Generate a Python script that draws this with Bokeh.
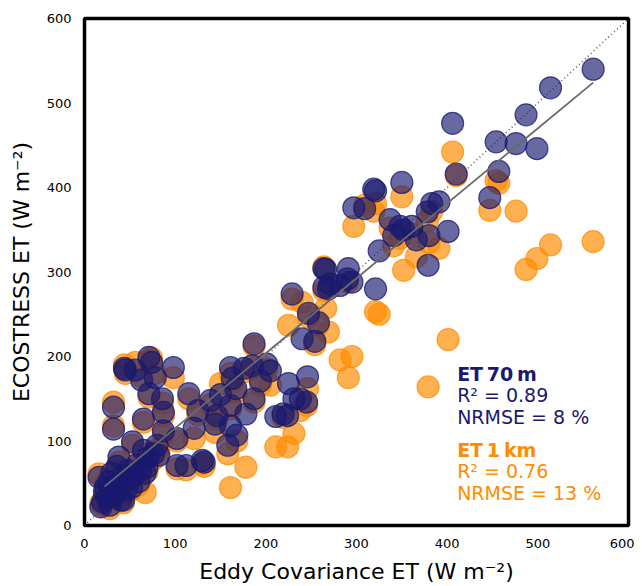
from bokeh.plotting import figure
from bokeh.embed import file_html
from bokeh.resources import INLINE
from bokeh.models import ColumnDataSource, FixedTicker
from bokeh.core.properties import value
import numpy as np

# Eddy covariance ET (x) shared by both products, W m-2
ec = [16, 18, 20, 22, 23, 25, 27, 28, 30, 32, 32, 33, 35, 36, 38, 40, 42, 43, 44, 45,
      46, 48, 50, 52, 53, 55, 56, 58, 60, 62, 63, 65, 65, 67, 69, 70, 71, 71, 74, 76,
      78, 80, 82, 86, 87, 87, 98, 102, 102, 112, 115, 121, 130, 132, 125,
      139, 144, 146, 150, 158, 161, 161, 161, 163, 167, 168, 176, 178, 185, 187, 187,
      194, 201, 205, 211, 219, 224, 231, 238, 245, 229, 240, 246, 247, 254, 258, 266,
      269, 225, 264, 264, 271, 282, 290, 291, 295, 297, 309, 319, 321, 321, 325,
      337, 341, 348, 350, 352, 361, 366, 378, 379, 380, 383, 391, 401, 406, 410,
      447, 454, 457, 476, 487, 499, 514, 561]
# ECOSTRESS ET 70 m
et_70m = [57, 22, 28, 40, 45, 33, 52, 24, 62, 114, 140, 36, 48, 70, 81, 30, 58, 30, 186, 184,
          42, 65, 55, 45, 99, 60, 184, 72, 52, 66, 172, 89, 126, 62, 69, 80, 199, 156, 193, 85,
          175, 95, 83, 150, 134, 112, 187, 71, 103, 71, 156, 115, 77, 75, 136,
          148, 120, 130, 155, 95, 118, 187, 142, 174, 162, 107, 186, 132, 189, 215, 150,
          171, 191, 183, 129, 132, 130, 150, 150, 146, 274, 221, 176, 251, 218, 240, 303,
          280, 168, 304, 282, 286, 284, 292, 304, 288, 376, 375, 398, 396, 280, 325,
          362, 343, 354, 406, 350, 354, 338, 371, 308, 343, 381, 383, 348, 476, 416,
          388, 454, 419, 452, 486, 446, 518, 540]
# ECOSTRESS ET 1 km
et_1km = [61, 26, 24, 36, 50, 30, 48, 20, 58, 118, 146, 32, 44, 66, 75, 35, 54, 27, 190, 180,
          38, 60, 50, 42, 95, 56, 193, 68, 48, 60, 176, 84, 122, 39, 64, 75, 195, 152, 198, 78,
          180, 90, 88, 145, 130, 108, 175, 67, 100, 66, 150, 103, 73, 70, 131,
          143, 110, 126, 168, 85, 45, 180, 138, 170, 158, 100, 182, 69, 185, 212, 146,
          166, 185, 166, 93, 128, 93, 109, 136, 142, 268, 264, 162, 247, 214, 237, 257,
          229, 237, 306, 278, 282, 196, 288, 175, 200, 354, 379, 372, 381, 253, 250,
          352, 331, 340, 389, 302, 345, 318, 360, 164, 335, 372, 328, 220, 442, 414,
          373, 408, 405, 372, 303, 316, 332, 336]

ticks = [0, 100, 200, 300, 400, 500, 600]
fit_slope, fit_intercept = 0.887, 26.5

NAVY = "#191970"
ORANGE = "#ff8c00"
FONT = "DejaVu Sans"

p = figure(width=634, height=586, x_range=(0, 600), y_range=(0, 600),
           output_backend="svg", toolbar_location=None,
           min_border_left=84, min_border_right=6, min_border_top=18, min_border_bottom=61)

src = ColumnDataSource(dict(ec=ec, a=et_70m, b=et_1km))

# 1:1 line
p.line(x=[0, 600], y=[0, 600], line_color="#555555", line_dash="1 3", line_width=1.5)

p.scatter(x="ec", y="b", source=src, size=22, fill_color=ORANGE, fill_alpha=0.68,
          line_color=ORANGE, line_alpha=0.75, line_width=1.2)
p.scatter(x="ec", y="a", source=src, size=22, fill_color=NAVY, fill_alpha=0.65,
          line_color=NAVY, line_alpha=0.75, line_width=1.2)

# regression line
xf = np.array([min(ec[1:]) + 4, max(ec)])
p.line(x=xf, y=fit_slope * xf + fit_intercept, line_color="#6a6a6a", line_width=1.8)

# annotations
tx = 411
p.text(x=[tx], y=[179], text=["ET\u200970\u2009m"], text_font=value(FONT), text_font_size="19px",
       text_font_style="bold", text_color=NAVY, text_baseline="middle")
p.text(x=[tx, tx], y=[154, 128], text=["R\u00b2 = 0.89", "NRMSE = 8 %"], text_font=value(FONT),
       text_font_size="19px", text_color=NAVY, text_baseline="middle")
p.text(x=[tx], y=[89], text=["ET\u20091\u2009km"], text_font=value(FONT), text_font_size="19px",
       text_font_style="bold", text_color=ORANGE, text_baseline="middle")
p.text(x=[tx, tx], y=[64.5, 39], text=["R\u00b2 = 0.76", "NRMSE = 13 %"], text_font=value(FONT),
       text_font_size="19px", text_color=ORANGE, text_baseline="middle")

p.xgrid.visible = False
p.ygrid.visible = False
p.outline_line_color = "black"
p.outline_line_width = 3.5
p.outline_line_alpha = 1.0

for ax in (p.xaxis, p.yaxis):
    ax.ticker = FixedTicker(ticks=ticks)
    ax.axis_line_color = None
    ax.major_tick_line_color = None
    ax.minor_tick_line_color = None
    ax.major_label_text_font = FONT
    ax.major_label_text_font_size = "13px"
    ax.major_label_text_color = "black"
    ax.axis_label_text_font = FONT
    ax.axis_label_text_font_size = "22px"
    ax.axis_label_text_font_style = "normal"
    ax.axis_label_text_color = "black"
    ax.major_label_standoff = 7

p.xaxis.axis_label = "Eddy Covariance ET (W m\u207b\u00b2)"
p.yaxis.axis_label = "ECOSTRESS ET (W m\u207b\u00b2)"
p.xaxis.axis_label_standoff = 8
p.yaxis.axis_label_standoff = 10

open("out.html", "w").write(file_html(p, INLINE))
